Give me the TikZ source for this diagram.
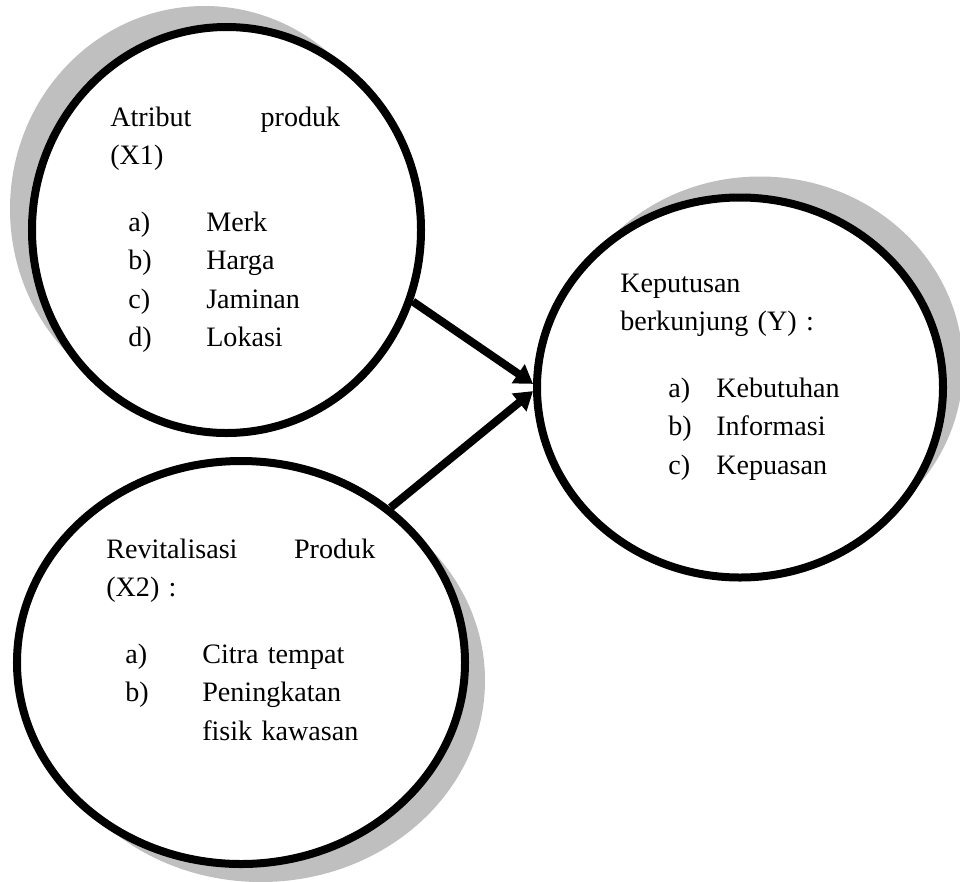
\documentclass[tikz,border=0pt]{standalone}
\usepackage{fontspec}
\setmainfont{Liberation Serif}
\usepackage{tikz}
\usetikzlibrary{shapes.geometric, shadows, arrows.meta}

\tikzset{
	bubble/.style 2 args={ellipse, draw, line width=2mm, fill=white, inner sep=0pt,
		drop shadow={shadow xshift=#1, shadow yshift=#2, fill=black!25, opacity=1}},
	txt/.style={anchor=base west, align=left, inner sep=0pt, font=\fontsize{20pt}{27.4pt}\selectfont},
	conn/.style={line width=2mm, -{Triangle[length=4.5mm, width=5.5mm]}}
}
\newcommand{\itm}[3]{\hspace*{#1}\makebox[#2][l]{#3}}

\begin{document}
\begin{tikzpicture}[x=0.25mm, y=-0.25mm]
	\useasboundingbox (0,0) rectangle (960,881);

	\node[bubble={-5.5mm}{5.25mm}, minimum width=97.25mm, minimum height=101.5mm] (atr) at (226.5,230) {};
	\node[bubble={5mm}{5.25mm}, minimum width=101.5mm, minimum height=95mm] (kep) at (740,387.5) {};
	\node[bubble={5mm}{-4.5mm}, minimum width=112mm, minimum height=100.75mm] (rev) at (241,662.5) {};

	\node[txt, text width=57.5mm] (atrtxt) at (110,126) {Atribut\hfill produk\\(X1)\\[7mm]
		\itm{4.5mm}{19.5mm}{a)}Merk\\
		\itm{4.5mm}{19.5mm}{b)}Harga\\
		\itm{4.5mm}{19.5mm}{c)}Jaminan\\
		\itm{4.5mm}{19.5mm}{d)}Lokasi};

	\node[txt, text width=50mm] (keptxt) at (620,292) {Keputusan\\berkunjung (Y) :\\[7mm]
		\itm{12mm}{12mm}{a)}Kebutuhan\\
		\itm{12mm}{12mm}{b)}Informasi\\
		\itm{12mm}{12mm}{c)}Kepuasan};

	\node[txt, text width=67.25mm] (revtxt) at (106,558) {Revitalisasi\hfill Produk\\(X2) :\\[7mm]
		\itm{4.75mm}{19.25mm}{a)}Citra tempat\\
		\itm{4.75mm}{19.25mm}{b)}Peningkatan\\
		\hspace*{24mm}fisik kawasan};

	\draw[conn] (atr.-21.6) -- (kep.179);
	\draw[conn] (rev.46.4) -- (kep.181);
\end{tikzpicture}
\end{document}
